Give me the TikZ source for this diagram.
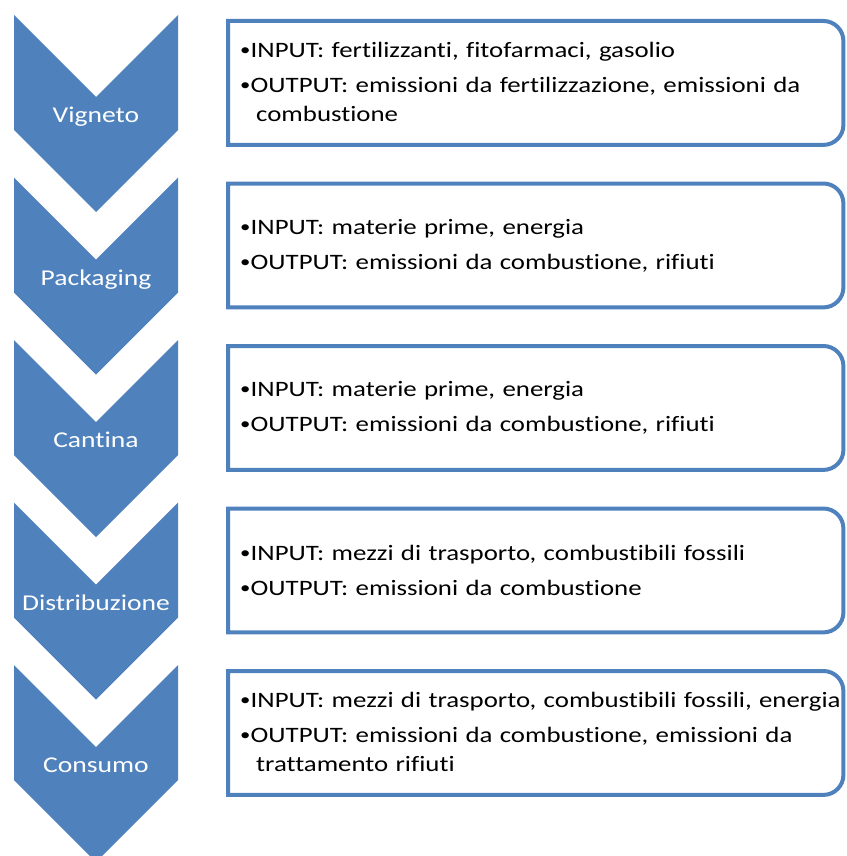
\documentclass[tikz,border=0pt]{standalone}
\usepackage{fontspec}
\setmainfont{Carlito}[FakeStretch=1.22, Ligatures={NoCommon}]
\usepackage{tikz}
\definecolor{smartblue}{RGB}{79,129,189}
\tikzstyle{chevron} = [fill=smartblue]
\tikzstyle{stagename} = [text=white, font=\fontsize{22.6}{28}\selectfont, anchor=base, inner sep=0pt]
\tikzstyle{infobox} = [rectangle, minimum width=615pt, minimum height=123.5pt, inner sep=0pt, anchor=north west]
\tikzstyle{boxline} = [draw=smartblue, line width=4pt]
\tikzstyle{infotext} = [anchor=west, inner sep=0pt, text width=640pt, align=left, font=\fontsize{22}{29}\selectfont]
\newcommand{\point}[1]{\par\makebox[10.5pt][l]{\raisebox{1.7pt}{\fontsize{17}{17}\selectfont\textbullet}}#1}
\newcommand{\wrap}{\newline\hspace*{16pt}}
\newcommand{\stage}[3]{% top, name, label
  \fill[chevron] (14,-#1) -- ++(82,-82) -- ++(82,82) -- ++(0,-115) -- ++(-82,-82) -- ++(-82,82) -- cycle;
  \node (#2) [stagename] at (96,-#1-107.5) {#3};}
\newcommand{\infoframe}[1]{\draw[boxline] (#1.north west) -- ([xshift=-20pt]#1.north east)
  arc[start angle=90,end angle=0,radius=20pt] -- ([yshift=20pt]#1.south east)
  arc[start angle=0,end angle=-90,radius=20pt] -- (#1.south west) -- cycle;}
\begin{document}
\begin{tikzpicture}[x=1pt,y=1pt]
\useasboundingbox (0,0) rectangle (846,-856);
\stage{15}{vigneto}{Vigneto}
\stage{177.5}{packaging}{Packaging}
\stage{340}{cantina}{Cantina}
\stage{502.5}{distribuzione}{Distribuzione}
\stage{665}{consumo}{Consumo}
\node (box1) [infobox] at (228,-21) {};
\node (box2) [infobox] at (228,-183.5) {};
\node (box3) [infobox] at (228,-346) {};
\node (box4) [infobox] at (228,-508.5) {};
\node (box5) [infobox] at (228,-671) {};
\infoframe{box1}
\infoframe{box2}
\infoframe{box3}
\infoframe{box4}
\infoframe{box5}
\node (txt1) [infotext] at ([xshift=12pt,yshift=11pt]box1.west) {\setlength{\parskip}{6pt}%
\point{INPUT: fertilizzanti, fitofarmaci, gasolio}
\point{OUTPUT: emissioni da fertilizzazione, emissioni da\wrap combustione}};
\node (txt2) [infotext] at ([xshift=12pt,yshift=10pt]box2.west) {\setlength{\parskip}{6pt}%
\point{INPUT: materie prime, energia}
\point{OUTPUT: emissioni da combustione, rifiuti}};
\node (txt3) [infotext] at ([xshift=12pt,yshift=10pt]box3.west) {\setlength{\parskip}{6pt}%
\point{INPUT: materie prime, energia}
\point{OUTPUT: emissioni da combustione, rifiuti}};
\node (txt4) [infotext] at ([xshift=12pt,yshift=10pt]box4.west) {\setlength{\parskip}{6pt}%
\point{INPUT: mezzi di trasporto, combustibili fossili}
\point{OUTPUT: emissioni da combustione}};
\node (txt5) [infotext] at ([xshift=12pt,yshift=11pt]box5.west) {\setlength{\parskip}{6pt}%
\point{INPUT: mezzi di trasporto, combustibili fossili, energia}
\point{OUTPUT: emissioni da combustione, emissioni da\wrap trattamento rifiuti}};
\end{tikzpicture}
\end{document}
